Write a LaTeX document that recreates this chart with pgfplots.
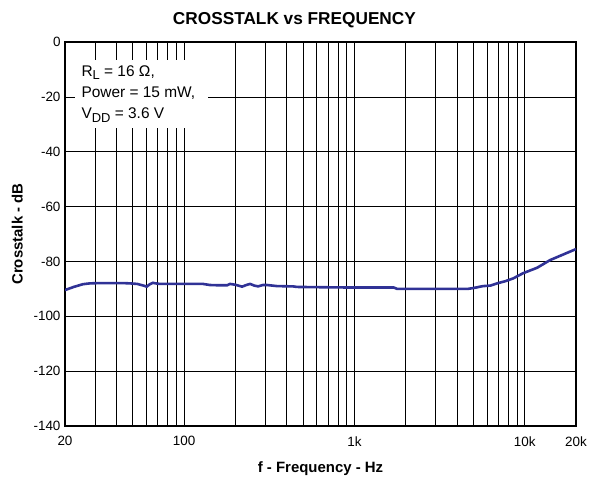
\documentclass[border=0pt]{standalone}
\usepackage{fontspec}
\setmainfont{Liberation Sans}
\usepackage{pgfplots}
\pgfplotsset{compat=1.18}
\definecolor{curve}{RGB}{48,50,150}
\newcommand{\sub}[1]{\raisebox{-3.5bp}{\fontsize{13}{13}\selectfont #1}}
\begin{document}
\begin{tikzpicture}[x=1bp,y=1bp]
\useasboundingbox (-65bp,-53bp) rectangle (525bp,426bp);
\begin{axis}[
  at={(0,0)}, anchor=south west,
  scale only axis,
  width=511bp, height=384bp,
  xmode=log,
  xmin=20, xmax=20000,
  ymin=-140, ymax=0,
  ytick={-140,-120,...,0},
  xtick={20,100,1000,10000,20000},
  xticklabels={20,100,1k,10k,20k},
  minor xtick={30,40,50,60,70,80,90,200,300,400,500,600,700,800,900,2000,3000,4000,5000,6000,7000,8000,9000},
  xmajorgrids, ymajorgrids, xminorgrids,
  grid style={black, line width=0.6bp},
  minor grid style={black, line width=0.6bp},
  axis line style={line width=2.5bp},
  tick style={draw=none},
  /pgf/number format/assume math mode=true,
  ticklabel style={font=\fontsize{13.5}{15}\selectfont},
  xticklabel style={yshift=-7bp},
  yticklabel style={xshift=-1bp},
  xlabel={\textbf{f - Frequency - Hz}},
  ylabel={\textbf{Crosstalk - dB}},
  label style={font=\fontsize{15}{17}\selectfont},
  xlabel style={yshift=-8bp},
  ylabel style={yshift=4bp},
  title={\textbf{CROSSTALK vs FREQUENCY}},
  title style={font=\fontsize{17.3}{20}\selectfont, at={(0.449,1)}, yshift=5bp},
  clip=true,
]
\addplot[curve, line width=2.6bp] coordinates {
(20,-90.5) (20.5,-90.2) (22.5,-89.3) (25.5,-88.3) (28,-88.0) (32,-87.9) (38,-87.9) (43.8,-87.9) (48,-88.0) (53,-88.2) (57,-88.7) (60.4,-89.2) (63,-88.3) (65.7,-87.8) (68,-88.0) (72,-88.2) (90,-88.2) (110,-88.2) (129,-88.2) (142,-88.6) (160,-88.7) (179,-88.7) (186,-88.2) (200,-88.5) (219,-89.2) (232,-88.6) (244,-88.2) (258,-88.8) (272,-89.1) (290,-88.6) (307,-88.6) (352,-89.0) (437,-89.1) (460,-89.3) (628,-89.4) (900,-89.5) (1300,-89.5) (1700,-89.5) (1780,-90.0) (2500,-90.0) (3500,-90.0) (4645,-90.0) (5000,-89.7) (5692,-89.0) (6300,-88.8) (6888,-88.0) (7700,-87.2) (8550,-86.2) (9780,-84.3) (11830,-82.3) (14100,-79.5) (16790,-77.5) (20000,-75.5)
};
\node[fill=white, anchor=north west, inner sep=0pt, minimum width=133bp, minimum height=68bp] at (rel axis cs:0.0196,0.953) {};
\node[anchor=north west, align=left, inner sep=0pt, font=\fontsize{15.5}{21.5}\selectfont] at (rel axis cs:0.032,0.94) {R\sub{L} = 16 Ω,\\Power = 15 mW,\\V\sub{DD} = 3.6 V};
\end{axis}
\end{tikzpicture}
\end{document}
